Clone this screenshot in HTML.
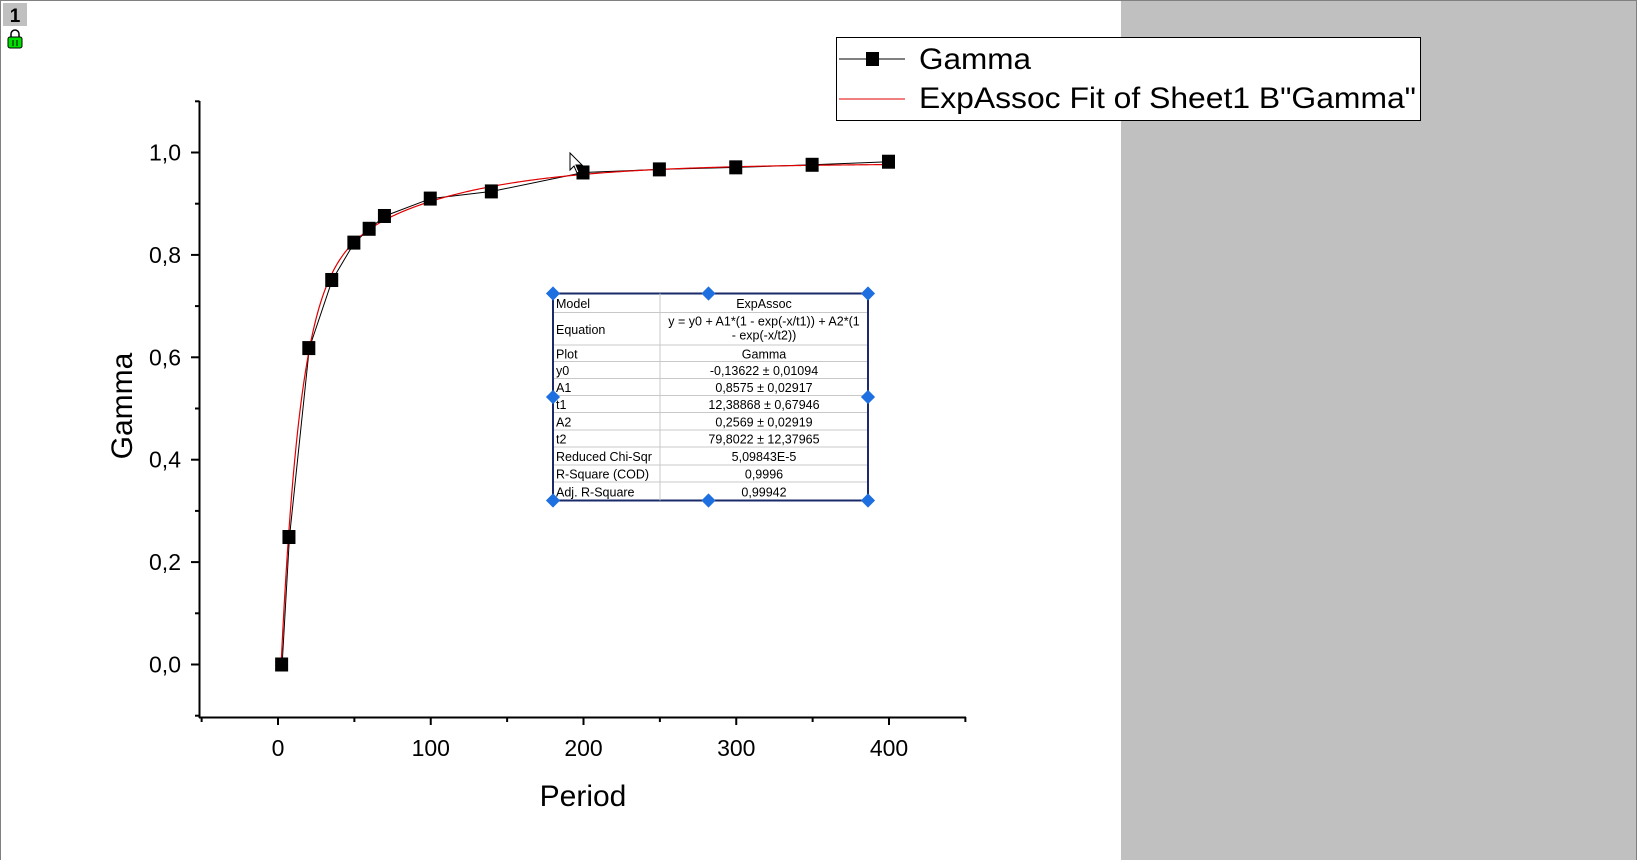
<!DOCTYPE html>
<html><head><meta charset="utf-8"><style>
html,body{margin:0;padding:0;background:#fff;}
svg{display:block;font-family:"Liberation Sans",Arial,sans-serif;}
</style></head><body>
<svg id="chart" width="1637" height="860" viewBox="0 0 1637 860" xmlns="http://www.w3.org/2000/svg">
<rect x="0" y="0" width="1637" height="860" fill="#fff"/>
<rect x="1121" y="0" width="516" height="860" fill="#c0c0c0"/>
<line x1="0.5" y1="0" x2="0.5" y2="860" stroke="#808080"/>
<line x1="0" y1="0.5" x2="1637" y2="0.5" stroke="#808080"/>
<line x1="1636.5" y1="0" x2="1636.5" y2="860" stroke="#808080"/>
<g>
<rect x="3" y="3" width="24" height="23" fill="#c0c0c0"/>
<text x="15" y="22" font-size="19" font-weight="bold" text-anchor="middle">1</text>
</g>
<g>
<rect x="8" y="37" width="14" height="11" rx="2" fill="#00e000" stroke="#000" stroke-width="1"/>
<path d="M11 37 v-3 a4 4 0 0 1 8 0 v3" fill="none" stroke="#000" stroke-width="1.5"/>
<line x1="13" y1="40" x2="13" y2="46" stroke="#000"/><line x1="17" y1="40" x2="17" y2="46" stroke="#000"/>
</g>
<g id="axes"></g>
<g id="series"></g>
<g>
<rect x="836.5" y="37.5" width="584" height="83" fill="#fff" stroke="#000" stroke-width="1"/>
<line x1="839" y1="59" x2="905" y2="59" stroke="#000"/>
<rect x="866" y="52" width="13" height="14" fill="#000"/>
<text x="919" y="69" font-size="30" textLength="112" lengthAdjust="spacingAndGlyphs">Gamma</text>
<line x1="839" y1="99" x2="905" y2="99" stroke="#e00000"/>
<text x="919" y="108" font-size="30" textLength="497" lengthAdjust="spacingAndGlyphs">ExpAssoc Fit of Sheet1 B"Gamma"</text>
</g>
<g id="table"></g>
<path d="M570 153 v17 l4 -4 l3 7 l2 -1 l-3 -7 h6 z" fill="#fff" stroke="#000" stroke-width="1"/>
</svg>
<script>
const xTicks = [0, 100, 200, 300, 400];
const yTicks = [0.0, 0.2, 0.4, 0.6, 0.8, 1.0];
const yTickLabels = ["0,0","0,2","0,4","0,6","0,8","1,0"];
const periods = [2.7, 7.5, 20.5, 35.5, 50, 60, 70, 100, 140, 200, 250, 300, 350, 400];
const gamma = [0.0, 0.249, 0.618, 0.751, 0.824, 0.851, 0.876, 0.910, 0.924, 0.961, 0.967, 0.971, 0.976, 0.982];
const fitParams = [-0.13622, 0.8575, 12.38868, 0.2569, 79.8022];
const tableLabels = ["Model","Equation","Plot","y0","A1","t1","A2","t2","Reduced Chi-Sqr","R-Square (COD)","Adj. R-Square"];
const tableValues = ["ExpAssoc","y = y0 + A1*(1 - exp(-x/t1)) + A2*(1|- exp(-x/t2))","Gamma","-0,13622 ± 0,01094","0,8575 ± 0,02917","12,38868 ± 0,67946","0,2569 ± 0,02919","79,8022 ± 12,37965","5,09843E-5","0,9996","0,99942"];

const NS="http://www.w3.org/2000/svg";
const X0=278, XS=1.5275, Y0=664.5, YS=512;
const xs=v=>X0+v*XS, ys=v=>Y0-v*YS;
function mk(tag,attrs,parent,txt){const e=document.createElementNS(NS,tag);for(const k in attrs)e.setAttribute(k,attrs[k]);if(txt!==undefined)e.textContent=txt;parent.appendChild(e);return e;}
const ax=document.getElementById('axes');
let e;
e=mk('line',{x1:199.5,y1:101,x2:199.5,y2:718,stroke:'#000','stroke-width':2},ax);


e=mk('line',{x1:199,y1:717.5,x2:966,y2:717.5,stroke:'#000','stroke-width':2},ax);


for(let v=-50;v<=450;v+=50){const major=v%100===0;
 e=mk('line',{x1:xs(v),y1:717,x2:xs(v),y2:major?725:722,stroke:'#000','stroke-width':2},ax);
 
 }
xTicks.forEach(v=>{e=mk('text',{x:xs(v),y:756,'font-size':23,'text-anchor':'middle'},ax,String(v));
 
 });
for(let i=-1;i<=11;i++){const v=i/10;const major=i%2===0;
 e=mk('line',{x1:major?191:195,y1:ys(v),x2:199.5,y2:ys(v),stroke:'#000','stroke-width':2},ax);
 
 }
yTicks.forEach((v,i)=>{e=mk('text',{x:181,y:ys(v)+8,'font-size':23,'text-anchor':'end'},ax,yTickLabels[i]);
 
 });
e=mk('text',{x:583,y:806,'font-size':30,'text-anchor':'middle'},ax,'Period');


e=mk('text',{x:132,y:406,'font-size':30,'text-anchor':'middle',transform:'rotate(-90 132 406)'},ax,'Gamma');



const sg=document.getElementById('series');
e=mk('polyline',{points:periods.map((p,i)=>xs(p)+','+ys(gamma[i])).join(' '),fill:'none',stroke:'#000','stroke-width':1},sg);


const [y0,A1,t1,A2,t2]=fitParams;
const fit=x=>y0+A1*(1-Math.exp(-x/t1))+A2*(1-Math.exp(-x/t2));
let lo=0,hi=periods[0];for(let k=0;k<40;k++){const m=(lo+hi)/2;if(fit(m)<0)lo=m;else hi=m;}
let pts=[];const xa=hi,xb=periods[periods.length-1];
for(let i=0;i<=400;i++){const x=xa+(xb-xa)*i/400;pts.push(xs(x)+','+ys(fit(x)));}
e=mk('polyline',{points:pts.join(' '),fill:'none',stroke:'#e00000','stroke-width':1.2},sg);


periods.forEach((p,i)=>{e=mk('rect',{x:xs(p)-7,y:ys(gamma[i])-7,width:13,height:14,fill:'#000'},sg);
 
 });

const tb=document.getElementById('table');
const TX=553,TY=293.5,TW=315,CX=660;
const rowY=[293.5,312.5,345,361.5,378.5,395.5,412.5,430,447,465,482,500.5];
e=mk('rect',{x:TX,y:TY,width:TW,height:207,fill:'#fff',stroke:'#1a2a6a','stroke-width':2},tb);


mk('line',{x1:CX,y1:TY,x2:CX,y2:500.5,stroke:'#c8c8c8'},tb);
for(let i=1;i<rowY.length-1;i++)mk('line',{x1:TX+1,y1:rowY[i],x2:TX+TW-1,y2:rowY[i],stroke:'#c8c8c8'},tb);
tableLabels.forEach((l,i)=>{const mid=(rowY[i]+rowY[i+1])/2;
 e=mk('text',{x:TX+3,y:mid+5,'font-size':12.5},tb,l);
 
 
 const parts=tableValues[i].split('|');
 parts.forEach((p,j)=>{const yy=parts.length>1?rowY[i]+13+j*14:mid+5;
  e=mk('text',{x:(CX+TX+TW)/2,y:yy,'font-size':12.5,'text-anchor':'middle'},tb,p);
  
  });});
[[TX,TY],[(TX+TX+TW)/2-2,TY],[TX+TW,TY],[TX,397],[TX+TW,397],[TX,500.5],[(TX+TX+TW)/2-2,500.5],[TX+TW,500.5]].forEach(([x,y])=>{
 e=mk('rect',{x:x-5,y:y-5,width:10,height:10,fill:'#1e6fe0',transform:`rotate(45 ${x} ${y})`},tb);
 
 });
</script>
</body></html>
